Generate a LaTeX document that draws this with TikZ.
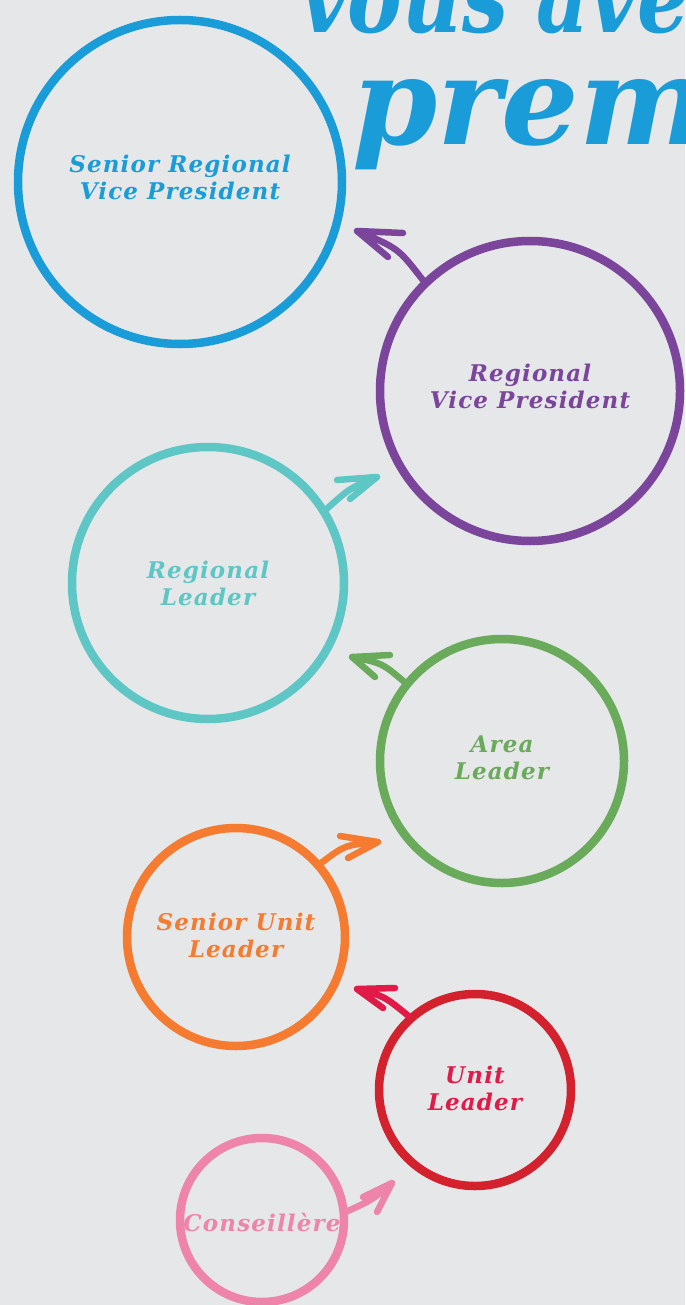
\documentclass[tikz,border=0pt]{standalone}
\usepackage{fontspec}
\setmainfont{DejaVu Serif}
\newfontfamily\labfont{DejaVu Serif}[LetterSpace=5]
\definecolor{bg}{HTML}{E6E7E9}
\definecolor{cblue}{HTML}{199CD8}
\definecolor{cpurple}{HTML}{7B459C}
\definecolor{cteal}{HTML}{5EC7C6}
\definecolor{cgreen}{HTML}{6AAA5B}
\definecolor{corange}{HTML}{F47B30}
\definecolor{cred}{HTML}{D3222E}
\definecolor{ccrimson}{HTML}{E21A48}
\definecolor{cpink}{HTML}{EE84AA}
\tikzset{
  ring/.style={circle, draw=#1, line width=8.5pt, inner sep=0pt},
  lab/.style={text=#1, align=center, font=\labfont\fontsize{23}{27}\selectfont\bfseries\itshape},
  hand/.style={draw=#1, line width=6.5pt, line cap=round, line join=round},
}
\begin{document}
\begin{tikzpicture}[x=1pt,y=-1pt]
\useasboundingbox (0,0) rectangle (685,1305);
\fill[bg] (0,0) rectangle (685,1305);
\begin{scope}
\clip (0,0) rectangle (685,1305);
\node[anchor=base west, text=cblue, font=\fontsize{100}{100}\selectfont\bfseries\itshape, inner sep=0pt, xscale=0.82] (t1) at (300,33) {vous avez};
\node[anchor=base west, text=cblue, font=\fontsize{122}{122}\selectfont\bfseries\itshape, inner sep=0pt] (t2) at (352,145) {premier};
\end{scope}

\node[ring=cblue, minimum size=324pt] (c1) at (180,182) {};
\node[ring=cpurple, minimum size=300pt] (c2) at (530,391) {};
\node[ring=cteal, minimum size=272pt] (c3) at (208,583) {};
\node[ring=cgreen, minimum size=244pt] (c4) at (502,761) {};
\node[ring=corange, minimum size=218pt] (c5) at (236,937) {};
\node[ring=cred, minimum size=192pt] (c6) at (475,1090) {};
\node[ring=cpink, minimum size=164pt] (c7) at (262,1220) {};

\node[lab=cblue] (l1) at (180,177) {Senior Regional\\Vice President};
\node[lab=cpurple] (l2) at (530,386) {Regional\\Vice President};
\node[lab=cteal] (l3) at (208,583) {Regional\\Leader};
\node[lab=cgreen] (l4) at (502,758) {Area\\Leader};
\node[lab=corange] (l5) at (236,935) {Senior Unit\\Leader};
\node[lab=ccrimson] (l6) at (475,1088) {Unit\\Leader};
\node[lab=cpink] (l7) at (262,1222) {Conseillère};

% arrows
\coordinate (p2) at (357,231);
\draw[hand=cpurple] (c2.134) .. controls (398,248) .. (p2) -- (403,233) (p2) -- (388,257);
\coordinate (p3) at (377,477);
\draw[hand=cteal] (c3.32) .. controls (350,488) .. (p3) -- (337,480) (p3) -- (350,499);
\coordinate (p4) at (352,657);
\draw[hand=cgreen] (c4.141) .. controls (382,663) .. (p4) -- (390,655) (p4) -- (375,677);
\coordinate (p5) at (378,842);
\draw[hand=corange] (c5.41) .. controls (345,845) .. (p5) -- (340,836) (p5) -- (348,858);
\coordinate (p6) at (357,989);
\draw[hand=ccrimson] (c6.132) .. controls (384,996) .. (p6) -- (395,988) (p6) -- (383,1008);
\coordinate (p7) at (392,1183);
\draw[hand=cpink] (c7.6) .. controls (372,1200) .. (p7) -- (363,1197) (p7) -- (377,1212);
\end{tikzpicture}
\end{document}
